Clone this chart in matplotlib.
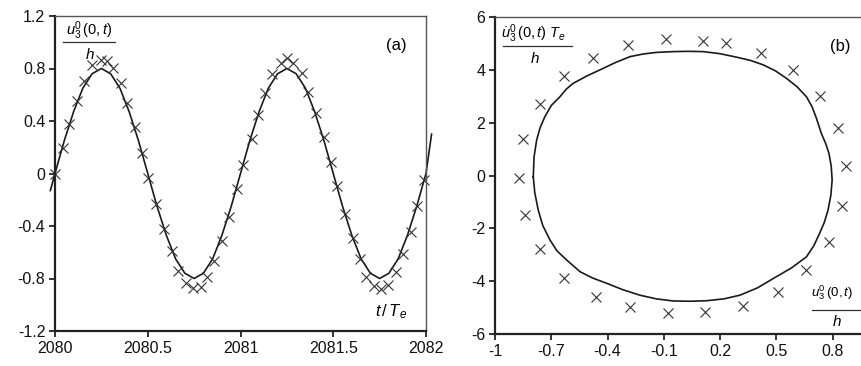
import matplotlib
matplotlib.use("Agg")
import matplotlib.pyplot as plt
from matplotlib.lines import Line2D

plt.rcParams['font.family'] = ['Liberation Sans', 'DejaVu Sans']
plt.rcParams['mathtext.fontset'] = 'custom'
plt.rcParams['mathtext.rm'] = 'Liberation Sans'
plt.rcParams['mathtext.it'] = 'Liberation Sans:italic'

# ---------------- Panel (a) data ----------------
line_t = [2079.975, 2080.0, 2080.05, 2080.1, 2080.15, 2080.2, 2080.25, 2080.3, 2080.35, 2080.4, 2080.45,
          2080.5, 2080.55, 2080.6, 2080.65, 2080.7, 2080.75, 2080.8, 2080.85, 2080.9, 2080.95,
          2081.0, 2081.05, 2081.1, 2081.15, 2081.2, 2081.25, 2081.3, 2081.35, 2081.4, 2081.45,
          2081.5, 2081.55, 2081.6, 2081.65, 2081.7, 2081.75, 2081.8, 2081.85, 2081.9, 2081.95,
          2082.0, 2082.03]
line_u = [-0.13, 0.0, 0.25, 0.47, 0.65, 0.76, 0.80, 0.76, 0.65, 0.47, 0.25,
          0.0, -0.25, -0.47, -0.65, -0.76, -0.80, -0.76, -0.65, -0.47, -0.25,
          0.0, 0.25, 0.47, 0.65, 0.76, 0.80, 0.76, 0.65, 0.47, 0.25,
          0.0, -0.25, -0.47, -0.65, -0.76, -0.80, -0.76, -0.65, -0.47, -0.25,
          0.0, 0.30]

mark_t = [2080.0, 2080.041, 2080.077, 2080.12, 2080.158, 2080.20, 2080.25, 2080.28, 2080.31, 2080.354,
          2080.39, 2080.43, 2080.47, 2080.50, 2080.544, 2080.588, 2080.63, 2080.665, 2080.706, 2080.746,
          2080.787, 2080.818, 2080.857, 2080.898, 2080.94, 2080.98, 2081.015, 2081.06, 2081.096, 2081.132,
          2081.172, 2081.217, 2081.249, 2081.285, 2081.33, 2081.366, 2081.407, 2081.45, 2081.49, 2081.52,
          2081.563, 2081.605, 2081.644, 2081.676, 2081.72, 2081.76, 2081.797, 2081.838, 2081.874, 2081.917,
          2081.95, 2081.99]
mark_u = [0.0, 0.197, 0.375, 0.55, 0.707, 0.827, 0.865, 0.86, 0.806, 0.687,
          0.535, 0.357, 0.154, -0.037, -0.235, -0.425, -0.59, -0.74, -0.837, -0.875,
          -0.867, -0.786, -0.664, -0.512, -0.33, -0.12, 0.065, 0.263, 0.446, 0.616,
          0.758, 0.84, 0.878, 0.845, 0.763, 0.623, 0.463, 0.28, 0.09, -0.095,
          -0.31, -0.49, -0.654, -0.786, -0.855, -0.88, -0.85, -0.748, -0.613, -0.443,
          -0.248, -0.05]

a_xticks = [2080, 2080.5, 2081, 2081.5, 2082]
a_xlabels = ['2080', '2080.5', '2081', '2081.5', '2082']
a_yticks = [-1.2, -0.8, -0.4, 0, 0.4, 0.8, 1.2]
a_ylabels = ['-1.2', '-0.8', '-0.4', '0', '0.4', '0.8', '1.2']

# ---------------- Panel (b) data ----------------
curve_x = [-0.796, -0.792, -0.778, -0.76, -0.734, -0.70, -0.654, -0.62, -0.583, -0.51, -0.44, -0.36,
           -0.28, -0.21, -0.14, -0.05, 0.03, 0.109, 0.2, 0.287, 0.36, 0.429, 0.495, 0.553,
           0.61, 0.66, 0.69, 0.713, 0.739, 0.762, 0.78, 0.792, 0.797, 0.79, 0.775, 0.755,
           0.73, 0.70, 0.66, 0.58, 0.483, 0.40, 0.306, 0.22, 0.128, 0.04, -0.05, -0.14,
           -0.228, -0.32, -0.405, -0.48, -0.547, -0.618, -0.67, -0.707, -0.745, -0.77, -0.788, -0.796]
curve_y = [-0.05, 0.7, 1.34, 1.8, 2.23, 2.65, 2.98, 3.27, 3.49, 3.77, 4.0, 4.27,
           4.5, 4.6, 4.66, 4.69, 4.7, 4.69, 4.61, 4.48, 4.36, 4.19, 3.96, 3.68,
           3.36, 2.98, 2.6, 2.17, 1.6, 1.22, 0.84, 0.35, -0.17, -0.75, -1.31, -1.78,
           -2.19, -2.65, -3.08, -3.5, -3.9, -4.25, -4.53, -4.67, -4.74, -4.76, -4.75, -4.67,
           -4.53, -4.32, -4.08, -3.88, -3.64, -3.2, -2.85, -2.44, -1.9, -1.3, -0.65, -0.05]

mk_x = [-0.87, -0.85, -0.76, -0.63, -0.48, -0.29, -0.09, 0.11, 0.23, 0.42, 0.59, 0.73, 0.83,
        0.87, 0.85, 0.78, 0.66, 0.51, 0.32, 0.12, -0.08, -0.28, -0.46, -0.63, -0.76, -0.84]
mk_y = [-0.1, 1.4, 2.7, 3.75, 4.45, 4.95, 5.16, 5.1, 5.0, 4.65, 4.0, 3.0, 1.8,
        0.35, -1.15, -2.5, -3.58, -4.4, -4.94, -5.16, -5.22, -4.97, -4.6, -3.87, -2.8, -1.5]

b_xticks = [-1, -0.7, -0.4, -0.1, 0.2, 0.5, 0.8]
b_xlabels = ['-1', '-0.7', '-0.4', '-0.1', '0.2', '0.5', '0.8']
b_yticks = [-6, -4, -2, 0, 2, 4, 6]
b_ylabels = ['-6', '-4', '-2', '0', '2', '4', '6']

W, H = 862, 366
fig = plt.figure(figsize=(W / 100, H / 100), dpi=100)

def px_axes(l, t, r, b):
    return fig.add_axes([l / W, (H - b) / H, (r - l) / W, (b - t) / H])

ax1 = px_axes(55, 16, 426, 331)
ax2 = px_axes(495, 17, 889, 334)

lc = '#1a1a1a'
mc = '#333333'
for ax in (ax1, ax2):
    for s in ('left', 'bottom'):
        ax.spines[s].set_linewidth(1.6)
        ax.spines[s].set_color('#222222')
    for s in ('top', 'right'):
        ax.spines[s].set_linewidth(1.0)
        ax.spines[s].set_color('#555555')
    ax.tick_params(direction='out', length=4, width=1.2, labelsize=11.5, colors='#111111',
                   top=False, right=False, pad=3)

# Panel (a)
ax1.plot(line_t, line_u, color=lc, lw=1.2, clip_on=False)
ax1.plot(mark_t, mark_u, ls='none', marker='x', ms=7, mew=0.8, color=mc, clip_on=False)
ax1.set_xlim(2080, 2082)
ax1.set_ylim(-1.2, 1.2)
ax1.set_xticks(a_xticks)
ax1.set_xticklabels(a_xlabels)
ax1.set_yticks(a_yticks)
ax1.set_yticklabels(a_ylabels)

ax1.text(0.091, 0.952, r'$u_3^0\,(\mathrm{0},t)$', transform=ax1.transAxes, ha='center', va='center', fontsize=10.5)
ax1.add_line(Line2D([0.022, 0.162], [0.917, 0.917], transform=ax1.transAxes, color='#333333', lw=0.9))
ax1.text(0.094, 0.878, r'$h$', transform=ax1.transAxes, ha='center', va='center', fontsize=11)
ax1.text(0.920, 0.907, '(a)', transform=ax1.transAxes, ha='center', va='center', fontsize=12)
ax1.text(0.905, 0.060, r'$t\,/\,T_e$', transform=ax1.transAxes, ha='center', va='center', fontsize=12)

# Panel (b)
ax2.plot(curve_x, curve_y, color=lc, lw=1.2)
ax2.plot(mk_x, mk_y, ls='none', marker='x', ms=7, mew=0.8, color=mc)
ax2.set_xlim(-1, 1.1)
ax2.set_ylim(-6, 6)
ax2.set_xticks(b_xticks)
ax2.set_xticklabels(b_xlabels)
ax2.set_yticks(b_yticks)
ax2.set_yticklabels(b_ylabels)

ax2.text(0.098, 0.946, r'$\dot{u}_3^0\,(\mathrm{0},t)\;T_e$', transform=ax2.transAxes, ha='center', va='center', fontsize=10.5)
ax2.add_line(Line2D([0.020, 0.195], [0.909, 0.909], transform=ax2.transAxes, color='#333333', lw=0.9))
ax2.text(0.102, 0.869, r'$h$', transform=ax2.transAxes, ha='center', va='center', fontsize=11)
ax2.text(0.876, 0.907, '(b)', transform=ax2.transAxes, ha='center', va='center', fontsize=12)

ax2.text(811 / W, (H - 293) / H, r'$u_3^0\,(\mathrm{0},t)$', transform=fig.transFigure, ha='left', va='center', fontsize=9.5)
fig.add_artist(Line2D([812 / W, 1.0], [(H - 310) / H, (H - 310) / H], transform=fig.transFigure, color='#333333', lw=0.9))
ax2.text(837 / W, (H - 322) / H, r'$h$', transform=fig.transFigure, ha='center', va='center', fontsize=11)

fig.savefig('out.png', dpi=100)
